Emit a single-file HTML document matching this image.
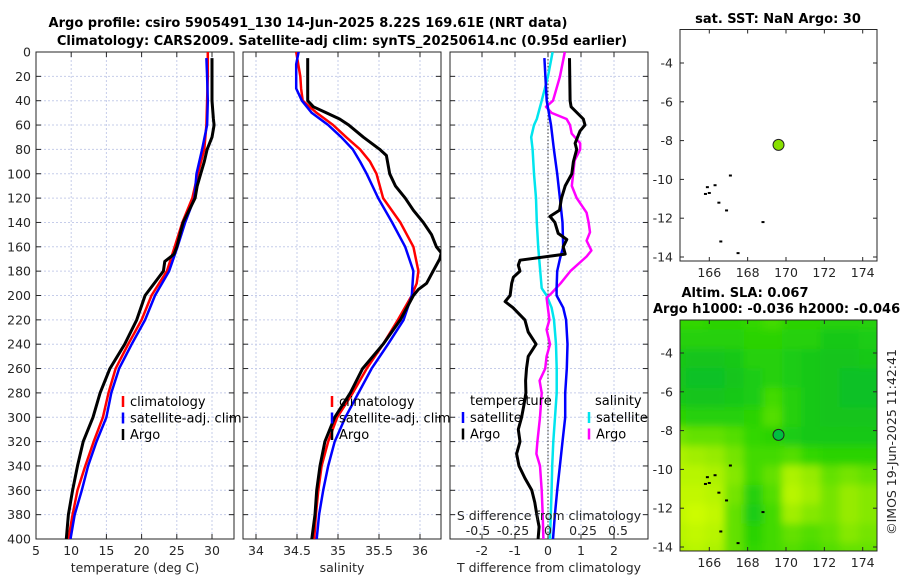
<!DOCTYPE html>
<html><head><meta charset="utf-8">
<style>
html,body{margin:0;padding:0;background:#fff;width:900px;height:580px;overflow:hidden;}
svg{display:block;overflow:hidden;font-family:"DejaVu Sans","Liberation Sans",sans-serif;}
.tk{font-size:12.5px;fill:#262626;}
.ttl{font-size:13px;font-weight:bold;fill:#000;}
.lg{font-size:13px;fill:#000;}
</style></head>
<body>
<svg id="chart" width="900" height="580" viewBox="0 0 900 580"></svg>
<script>
// ---------- data ----------
const climTDepth=[0,20,40,60,80,100,120,140,160,180,200,220,240,260,280,300,320,340,360,380,400];
const climT=[29.4,29.4,29.3,29.2,28.9,28.0,27.2,25.8,24.7,23.6,21.4,20.0,18.1,16.3,15.3,14.5,13.2,12.0,10.9,10.2,9.6];
const satTDepth=[5,20,40,60,80,100,120,140,160,180,200,220,240,260,280,300,320,340,360,380,400];
const satT=[29.2,29.3,29.4,29.3,28.6,27.8,27.5,26.2,25.1,23.9,21.9,20.5,18.6,16.8,15.7,15.0,13.6,12.4,11.5,10.5,9.9];
const argoTDepth=[5,40,55,60,70,80,90,100,110,120,140,160,166,168,172,180,200,220,240,260,280,300,320,340,360,380,400];
const argoT=[30.0,30.0,30.2,30.3,30.0,29.3,28.9,28.4,27.9,27.6,25.9,25.0,24.6,24.2,23.3,23.1,20.5,19.3,17.6,15.5,14.1,13.1,11.7,10.9,10.2,9.6,9.3];

const climSDepth=[0,20,30,40,50,60,70,80,90,100,120,140,160,180,190,200,220,240,260,280,300,320,340,360,380,400];
const climS=[34.49,34.54,34.55,34.57,34.74,34.94,35.1,35.27,35.39,35.47,35.55,35.76,35.92,35.98,35.96,35.9,35.73,35.55,35.35,35.18,34.99,34.88,34.8,34.76,34.73,34.71];
const satSDepth=[0,10,30,40,50,60,70,80,90,100,120,140,160,180,200,220,240,260,280,300,320,340,360,380,400];
const satS=[34.52,34.49,34.49,34.56,34.68,34.88,35.04,35.18,35.27,35.35,35.49,35.66,35.82,35.92,35.9,35.8,35.61,35.41,35.25,35.09,34.96,34.88,34.82,34.77,34.74];
const argoSDepth=[5,40,45,50,55,60,70,80,85,100,110,120,130,140,150,160,165,170,180,190,195,200,220,240,260,280,300,320,340,360,380,400];
const argoS=[34.63,34.63,34.7,34.86,35.02,35.13,35.31,35.51,35.59,35.63,35.7,35.82,35.92,36.04,36.14,36.2,36.26,36.24,36.16,36.08,35.98,35.92,35.76,35.55,35.3,35.15,34.96,34.84,34.78,34.74,34.72,34.68];

const satDTDepth=[5,40,60,80,100,120,140,160,170,180,194,200,210,220,240,260,280,300,320,340,360,380,400];
const satDT=[-0.11,-0.04,0.09,0.18,0.28,0.36,0.44,0.46,0.36,0.28,0.26,0.26,0.46,0.55,0.59,0.57,0.52,0.52,0.44,0.36,0.28,0.21,0.15];
const argoDTDepth=[5,40,45,55,60,65,75,80,90,100,110,120,130,135,140,149,154,160,166,171,175,180,185,190,200,205,210,220,230,240,250,260,270,280,290,300,310,320,330,340,350,360,370,380,390,400];
const argoDT=[0.65,0.67,0.7,1.07,1.12,0.97,0.82,0.87,0.77,0.72,0.52,0.41,0.35,0.06,0.21,0.31,0.57,0.46,0.52,-0.85,-0.9,-0.85,-1.05,-1.1,-1.15,-1.3,-1.06,-0.7,-0.6,-0.36,-0.6,-0.65,-0.68,-0.67,-0.73,-0.8,-0.9,-0.85,-0.95,-0.88,-0.7,-0.49,-0.4,-0.34,-0.27,-0.3];
const satDSDepth=[0,20,40,55,60,70,80,100,120,140,160,171,194,200,210,220,240,260,280,300,320,340,360,380,400];
const satDS=[0.033,0.0,-0.045,-0.08,-0.1,-0.12,-0.11,-0.10,-0.086,-0.08,-0.07,-0.062,-0.045,-0.01,0.026,0.043,0.057,0.062,0.062,0.05,0.038,0.03,0.026,0.02,0.014];
const argoDSDepth=[0,20,40,45,50,55,60,67,75,80,89,100,110,120,132,140,148,155,163,168,180,190,198,202,220,228,240,250,260,270,280,300,320,330,340,360,380,400];
const argoDS=[0.12,0.086,0.036,-0.014,0.026,0.133,0.157,0.169,0.23,0.23,0.19,0.18,0.17,0.205,0.276,0.29,0.3,0.276,0.31,0.276,0.16,0.09,0.026,-0.01,0.01,-0.01,0.014,-0.01,-0.02,-0.06,-0.045,-0.057,-0.076,-0.083,-0.057,-0.045,-0.038,-0.033];

const depthTicks=[0,20,40,60,80,100,120,140,160,180,200,220,240,260,280,300,320,340,360,380,400];
const tempTicks=[5,10,15,20,25,30];
const salTicks=[34,34.5,35,35.5,36];
const dTTicks=[-2,-1,0,1,2];
const dSTicks=[-0.5,-0.25,0,0.25,0.5];
const lonTicks=[166,168,170,172,174];
const latTicks=[-4,-6,-8,-10,-12,-14];
const argoLon=169.61, argoLat=-8.22;
const slaLats=[-2.5,-3.5,-4.5,-5.5,-6.5,-7.5,-8.5,-9.5,-10.5,-11.5,-12.5,-13.5,-14.5];
const slaLons=[164.5,165.5,166.5,167.5,168.5,169.5,170.5,171.5,172.5,173.5,174.5];
const slaGrid=[
[.40,.40,.35,.35,.40,.45,.35,.35,.30,.30,.30],
[.30,.30,.30,.30,.35,.35,.30,.30,.20,.20,.25],
[.20,.15,.15,.20,.30,.30,.25,.20,.15,.15,.20],
[.15,.10,.10,.15,.25,.30,.25,.20,.15,.10,.10],
[.20,.15,.15,.20,.25,.45,.30,.20,.15,.10,.10],
[.35,.30,.30,.30,.35,.50,.30,.20,.15,.15,.15],
[.60,.55,.55,.50,.40,.35,.25,.20,.20,.20,.20],
[.80,.75,.70,.60,.45,.45,.50,.40,.35,.35,.35],
[.85,.85,.80,.65,.45,.55,.80,.70,.55,.60,.55],
[.90,.90,.85,.60,.30,.50,.85,.75,.60,.70,.65],
[.90,.95,.90,.55,.25,.45,.75,.65,.60,.70,.65],
[.85,.90,.85,.55,.35,.45,.55,.50,.55,.65,.60],
[.80,.85,.80,.55,.40,.45,.50,.45,.50,.55,.55]];
const islands=[[165.8,-10.75],[166.0,-10.7],[166.3,-10.3],[166.5,-11.2],[166.9,-11.6],[167.1,-9.8],[166.6,-13.2],[167.5,-13.8],[168.8,-12.2],[165.9,-10.4]];

// ---------- helpers ----------
const NS="http://www.w3.org/2000/svg";
const svg=document.getElementById('chart');
function mk(tag,attrs,parent){const e=document.createElementNS(NS,tag);for(const k in attrs)e.setAttribute(k,attrs[k]);(parent||svg).appendChild(e);return e;}
function txt(x,y,s,cls,anchor,parent){const t=mk('text',{x:x,y:y,class:cls,'text-anchor':anchor||'middle'},parent);t.textContent=s;return t;}
const Y0=52,Y1=539;
const yD=d=>Y0+(Y1-Y0)*d/400;
function lin(d0,d1,r0,r1){return v=>r0+(v-d0)*(r1-r0)/(d1-d0);}
const xT=lin(5,30,36,212), xS=lin(34,36,256,420), xDT=lin(0,1,548,581), xDS=lin(0,1,548,688);
const xLon=lin(166,174,709.3,862.7);
const yLat1=lin(-4,-14,63,257), yLat2=lin(-4,-14,353,547);

function gridAndFrame(x0,x1,xs,xf,name){
  const g=mk('g',{});
  
  
  depthTicks.forEach(d=>{ if(d>0&&d<400) mk('line',{x1:x0,x2:x1,y1:yD(d),y2:yD(d),stroke:'#c6cdea','stroke-width':1,'stroke-dasharray':'2,2'},g);});
  xs.forEach(v=>{const x=xf(v); if(x>x0+1&&x<x1-1) mk('line',{x1:x,x2:x,y1:Y0,y2:Y1,stroke:'#c6cdea','stroke-width':1,'stroke-dasharray':'2,2'},g);});
  const f=mk('rect',{x:x0,y:Y0,width:x1-x0,height:Y1-Y0,fill:'none',stroke:'#262626','stroke-width':1});
  
  
  depthTicks.forEach(d=>{mk('line',{x1:x0,x2:x0+5,y1:yD(d),y2:yD(d),stroke:'#262626'});mk('line',{x1:x1-5,x2:x1,y1:yD(d),y2:yD(d),stroke:'#262626'});});
  xs.forEach(v=>{const x=xf(v);mk('line',{x1:x,x2:x,y1:Y1-5,y2:Y1,stroke:'#262626'});mk('line',{x1:x,x2:x,y1:Y0,y2:Y0+5,stroke:'#262626'});});
}
function profile(depths,vals,xf,color,w,name,clip){
  const pts=depths.map((d,i)=>xf(vals[i]).toFixed(1)+','+yD(d).toFixed(1)).join(' ');
  const p=mk('polyline',{points:pts,fill:'none',stroke:color,'stroke-width':w,'stroke-linejoin':'round'});
  if(clip)p.setAttribute('clip-path','url(#'+clip+')');
  
  
}
const defs=mk('defs',{});
[['c1',36,234],['c2',243,441],['c3',450,648]].forEach(c=>{const cp=mk('clipPath',{id:c[0]},defs);mk('rect',{x:c[1],y:Y0,width:c[2]-c[1],height:Y1-Y0},cp);});
const cpm=mk('clipPath',{id:'cm'},defs);mk('rect',{x:680,y:320,width:197,height:231},cpm);
const bl=mk('filter',{id:'blur',x:'-10%',y:'-10%',width:'120%',height:'120%'},defs);mk('feGaussianBlur',{stdDeviation:4},bl);

// ---------- titles ----------
const t1=txt(308,27,'Argo profile: csiro 5905491_130 14-Jun-2025 8.22S 169.61E (NRT data)','ttl');


const t2=txt(342,45,'Climatology: CARS2009. Satellite-adj clim: synTS_20250614.nc (0.95d earlier)','ttl');



// ---------- panel 1 ----------
gridAndFrame(36,234,tempTicks,xT,'temperature-panel');
depthTicks.forEach(d=>{const t=txt(31,yD(d)+4.5,String(d),'tk','end');});
tempTicks.forEach(v=>{const t=txt(xT(v),555,String(v),'tk');});
const xl1=txt(135,572,'temperature (deg C)','tk');
profile(climTDepth,climT,xT,'#ff0000',2.5,'temperature-climatology-line','c1');
profile(satTDepth,satT,xT,'#0000ff',2.5,'temperature-satellite-line','c1');
profile(argoTDepth,argoT,xT,'#000000',3,'temperature-argo-line','c1');

// ---------- panel 2 ----------
gridAndFrame(243,441,salTicks,xS,'salinity-panel');
salTicks.forEach(v=>{const t=txt(xS(v),555,String(v),'tk');});
const xl2=txt(342,572,'salinity','tk');
profile(climSDepth,climS,xS,'#ff0000',2.5,'salinity-climatology-line','c2');
profile(satSDepth,satS,xS,'#0000ff',2.5,'salinity-satellite-line','c2');
profile(argoSDepth,argoS,xS,'#000000',3,'salinity-argo-line','c2');

function legend(x,y,items,name){
  const g=mk('g',{});
  
  
  items.forEach((it,i)=>{
    const yy=y+i*16.5;
    mk('line',{x1:x,x2:x,y1:yy-10,y2:yy+1,stroke:it[1],'stroke-width':2.5},g);
    const t=txt(x+7,yy,it[0],'lg','start',g);
    
    
  });
}
legend(123,406,[['climatology','#ff0000'],['satellite-adj. clim','#0000ff'],['Argo','#000000']],'temperature-legend');
legend(332,406,[['climatology','#ff0000'],['satellite-adj. clim','#0000ff'],['Argo','#000000']],'salinity-legend');

// ---------- panel 3 ----------
gridAndFrame(450,648,dTTicks,xDT,'difference-panel');
mk('line',{x1:548,x2:548,y1:Y0,y2:Y1,stroke:'#333','stroke-width':1,'stroke-dasharray':'1.5,2'});
profile(satDSDepth,satDS,xDS,'#00e5ee',2.5,'salinity-diff-satellite-line','c3');
profile(argoDSDepth,argoDS,xDS,'#ff00ff',2.5,'salinity-diff-argo-line','c3');
profile(satDTDepth,satDT,xDT,'#0000ff',2.5,'temperature-diff-satellite-line','c3');
profile(argoDTDepth,argoDT,xDT,'#000000',3,'temperature-diff-argo-line','c3');
dTTicks.forEach(v=>{const t=txt(xDT(v),555,String(v),'tk');});
const xl3=txt(549,572,'T difference from climatology','tk');
const sl=txt(549,520,'S difference from climatology','tk');
dSTicks.forEach(v=>{const t=txt(xDS(v),535,String(v),'tk');});
const ht=txt(470,405,'temperature','lg','start');
const hs=txt(595,405,'salinity','lg','start');
legend(463,422,[['satellite','#0000ff'],['Argo','#000000']],'temperature-diff-legend');
legend(589,422,[['satellite','#00e5ee'],['Argo','#ff00ff']],'salinity-diff-legend');

// ---------- maps ----------
function mapAxes(y0,y1,yLat,name){
  const f=mk('rect',{x:680,y:y0,width:197,height:y1-y0,fill:'none',stroke:'#262626','stroke-width':1});
  
  
  latTicks.forEach(v=>{const y=yLat(v);mk('line',{x1:680,x2:684,y1:y,y2:y,stroke:'#262626'});mk('line',{x1:873,x2:877,y1:y,y2:y,stroke:'#262626'});
    const t=txt(673,y+4.5,String(v),'tk','end');});
  lonTicks.forEach(v=>{const x=xLon(v);mk('line',{x1:x,x2:x,y1:y1-4,y2:y1,stroke:'#262626'});mk('line',{x1:x,x2:x,y1:y0,y2:y0+4,stroke:'#262626'});
    const t=txt(x,y1+16,String(v),'tk');});
}
function islandsDraw(yLat,parent){islands.forEach(p=>{const r=mk('rect',{x:xLon(p[0])-1.5,y:yLat(p[1])-1,width:3,height:2,fill:'#000'},parent);});}

const st=txt(778,23,'sat. SST: NaN Argo: 30','ttl');
islandsDraw(yLat1);
mapAxes(29.5,261,yLat1,'sst-map');
const d1=mk('circle',{cx:xLon(argoLon),cy:yLat1(argoLat),r:5.5,fill:'#88e000',stroke:'#222','stroke-width':1});


const a1=txt(745,297,'Altim. SLA: 0.067','ttl');
const a2=txt(653,313,'Argo h1000: -0.036 h2000: -0.046','ttl','start');
function slaColor(v){
  const stops=[[0,[0,185,50]],[0.4,[50,215,0]],[0.7,[150,235,0]],[1,[215,255,0]]];
  for(let i=1;i<stops.length;i++){if(v<=stops[i][0]){const a=stops[i-1],b=stops[i],t=(v-a[0])/(b[0]-a[0]);return 'rgb('+a[1].map((c,k)=>Math.round(c+(b[1][k]-c)*t)).join(',')+')';}}
  return 'rgb(215,255,0)';
}
const hg=mk('g',{'clip-path':'url(#cm)'});


const hb=mk('g',{filter:'url(#blur)'},hg);
const cw=xLon(1)-xLon(0), ch=yLat2(-5)-yLat2(-4);
const nR=slaLats.length, nC=slaLons.length;
slaLats.forEach((la,i)=>slaLons.forEach((lo,j)=>{
  let x0=xLon(lo)-cw/2-4, x1=xLon(lo)+cw/2+4, y0=yLat2(la)-ch/2-4, y1=yLat2(la)+ch/2+4;
  if(j===0)x0-=20; if(j===nC-1)x1+=12; if(i===0)y0-=30; if(i===nR-1)y1=Math.min(y1+10,578);
  const r=mk('rect',{x:x0,y:y0,width:x1-x0,height:y1-y0,fill:slaColor(slaGrid[i][j])},hb);
  
  
}));
islandsDraw(yLat2,hg);
mapAxes(320,551,yLat2,'sla-map');
const d2=mk('circle',{cx:xLon(argoLon),cy:yLat2(argoLat),r:5.5,fill:'#00c040',stroke:'#222','stroke-width':1});


const cr=txt(0,0,'\u00A9IMOS 19-Jun-2025 11:42:41','tk');
cr.setAttribute('transform','translate(896,442) rotate(-90)');


</script>
</body></html>
